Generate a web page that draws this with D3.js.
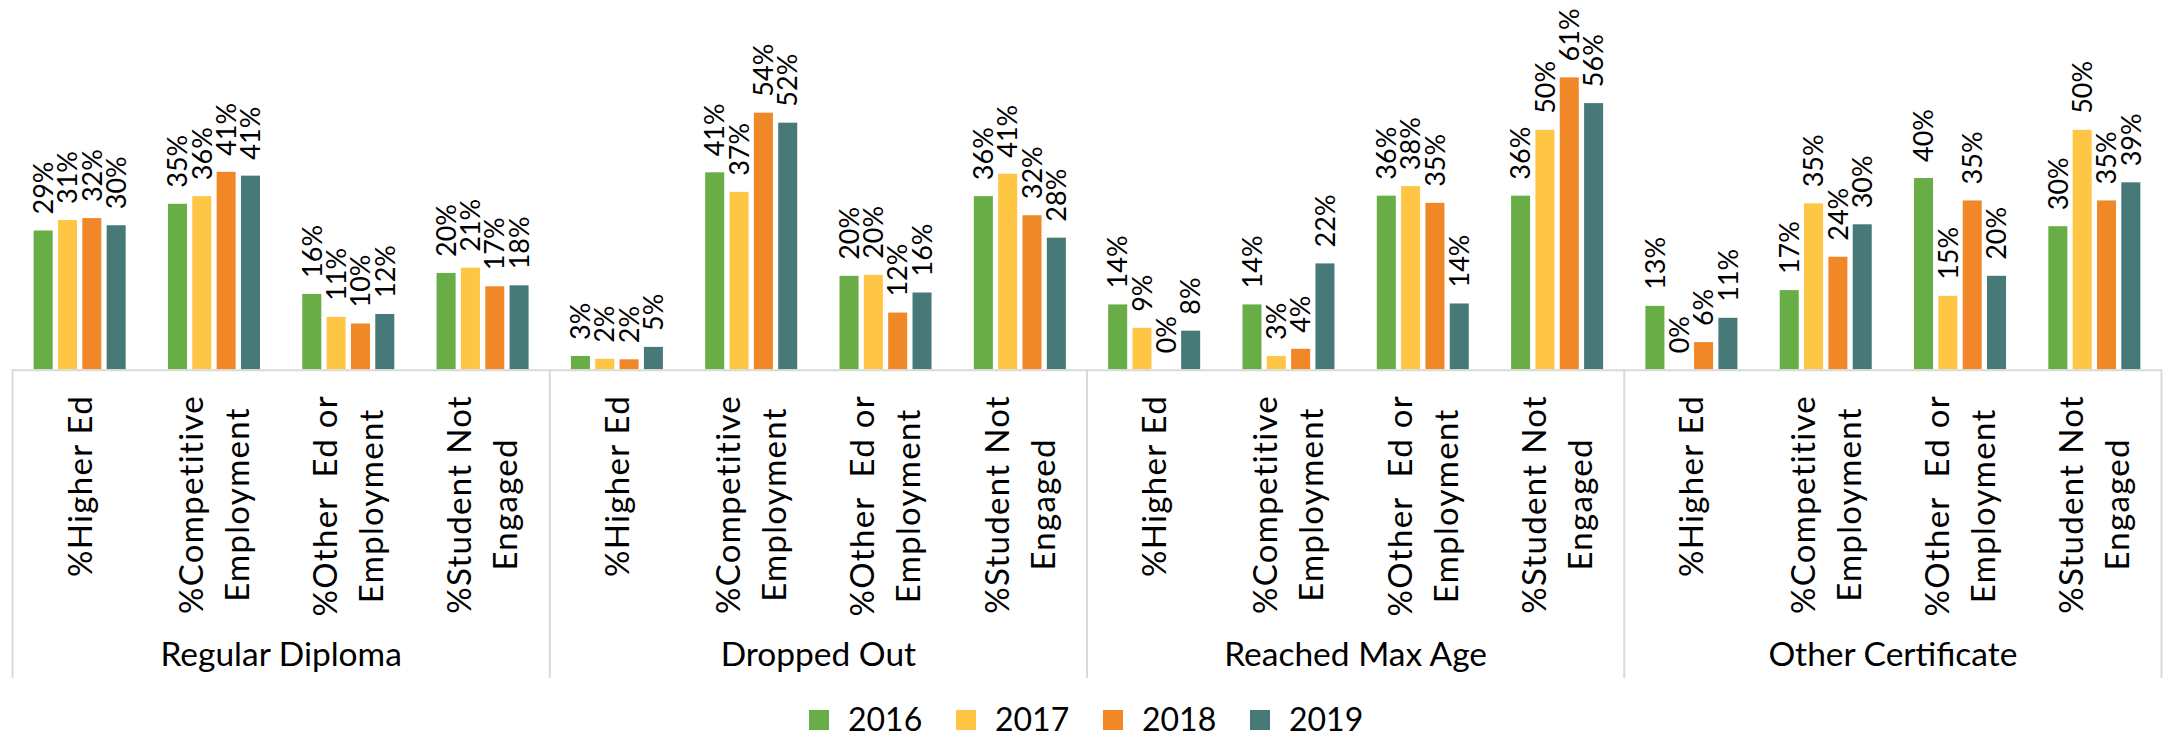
<!DOCTYPE html>
<html>
<head>
<meta charset="utf-8">
<script src="https://cdn.jsdelivr.net/npm/d3@7"></script>
<style>
  body { margin: 0; background: #fff; }
  svg { display: block; font-family: Lato, "Open Sans", sans-serif; }
</style>
</head>
<body>
<div id="chart"></div>
<script>
const GROUPS = ['Regular Diploma', 'Dropped Out', 'Reached Max Age', 'Other Certificate'];
const CATEGORIES = [
  ['%Higher Ed'],
  ['%Competitive', 'Employment'],
  ['%Other  Ed or', 'Employment'],
  ['%Student Not', 'Engaged'],
];
const YEARS = ['2016', '2017', '2018', '2019'];
const COLORS = ['#68AD45', '#FFC646', '#F18828', '#477978'];

// percent, 16 values per year: 4 categories x 4 groups, in group order
const V2016 = [29.1, 34.7, 15.8, 20.2,  2.8, 41.3, 19.6, 36.3,  13.6, 13.6, 36.4, 36.4,  13.3, 16.6, 40.1, 30.0];
const V2017 = [31.3, 36.3, 11.0, 21.3,  2.2, 37.2, 19.8, 41.0,   8.7,  2.8, 38.4, 50.2,   0.0, 34.8, 15.4, 50.2];
const V2018 = [31.7, 41.4,  9.6, 17.4,  2.1, 53.8, 11.9, 32.3,   0.0,  4.3, 34.9, 61.2,   5.7, 23.6, 35.4, 35.4];
const V2019 = [30.2, 40.6, 11.6, 17.6,  4.7, 51.7, 16.1, 27.6,   8.1, 22.2, 13.8, 55.8,  10.8, 30.4, 19.6, 39.2];
const SERIES = [V2016, V2017, V2018, V2019];

const W = 2163, H = 738;
const baseY = 369.3;

const svg = d3.select('#chart').append('svg')
  .attr('width', W).attr('height', H);

const x0 = d3.scaleBand().domain(GROUPS).range([12.5, 2161.5]);
const x1 = d3.scaleBand().domain(d3.range(CATEGORIES.length)).range([0, x0.bandwidth()]);
const x2 = d3.scaleBand().domain(YEARS).range([0, x1.bandwidth()])
  .paddingInner(0.218).paddingOuter(0.869);
const y = d3.scaleLinear().domain([0, 70]).range([baseY, 35.4]);

const rows = [];
GROUPS.forEach((g, gi) => {
  CATEGORIES.forEach((c, ci) => {
    YEARS.forEach((yr, yi) => {
      rows.push({ g, ci, yr, yi, v: SERIES[yi][gi * CATEGORIES.length + ci] });
    });
  });
});
const barX = d => x0(d.g) + x1(d.ci) + x2(d.yr);

// bars
svg.append('g').selectAll('rect')
  .data(rows.filter(d => d.v > 0))
  .join('rect')
  .attr('x', barX)
  .attr('y', d => y(d.v))
  .attr('width', x2.bandwidth())
  .attr('height', d => baseY - y(d.v))
  .attr('fill', d => COLORS[d.yi]);

// data labels
svg.append('g').selectAll('text')
  .data(rows)
  .join('text')
  .attr('transform', d => `translate(${barX(d) + x2.bandwidth() / 2},${y(d.v) - 16}) rotate(-90)`)
  .attr('dy', '0.36em')
  .attr('font-size', 27)
  .attr('fill', '#000')
  .text(d => `${Math.round(d.v)}%`);

// category axis line and group separators
const grid = svg.append('g').attr('stroke', '#d9d9d9').attr('stroke-width', 2);
grid.append('line')
  .attr('x1', x0.range()[0]).attr('x2', x0.range()[1])
  .attr('y1', baseY + 1).attr('y2', baseY + 1);
grid.selectAll('line.sep')
  .data([...GROUPS.map(g => x0(g)), x0.range()[1]])
  .join('line')
  .attr('class', 'sep')
  .attr('x1', d => d).attr('x2', d => d)
  .attr('y1', baseY).attr('y2', 678);

// category labels (rotated, multi-line)
const labelTop = 395, lineGap = 46;
GROUPS.forEach(g => {
  CATEGORIES.forEach((lines, ci) => {
    const cx = x0(g) + x1(ci) + x1.bandwidth() / 2;
    const lg = svg.append('g');
    const texts = lg.selectAll('text')
      .data(lines)
      .join('text')
      .attr('font-size', 33)
      .attr('letter-spacing', 1.3)
      .attr('text-anchor', 'middle')
      .attr('dy', '0.36em')
      .style('white-space', 'pre')
      .text(d => d);
    const maxLen = d3.max(texts.nodes(), n => n.getComputedTextLength());
    const cy = labelTop + maxLen / 2;
    texts.attr('transform', (d, i) =>
      `translate(${cx + (i - (lines.length - 1) / 2) * lineGap},${cy}) rotate(-90)`);
  });
});

// group labels
svg.append('g').selectAll('text')
  .data(GROUPS)
  .join('text')
  .attr('x', g => x0(g) + x0.bandwidth() / 2)
  .attr('y', 666)
  .attr('text-anchor', 'middle')
  .attr('font-size', 33.5)
  .text(g => g);

// legend
const lx = d3.scaleBand().domain(YEARS).range([809, 809 + 147 * YEARS.length]);
const leg = svg.append('g').selectAll('g')
  .data(YEARS)
  .join('g')
  .attr('transform', yr => `translate(${lx(yr)},710)`);
leg.append('rect')
  .attr('width', 20).attr('height', 20)
  .attr('fill', (yr, i) => COLORS[i]);
leg.append('text')
  .attr('x', 39).attr('y', 21)
  .attr('font-size', 32)
  .text(yr => yr);
</script>
</body>
</html>
